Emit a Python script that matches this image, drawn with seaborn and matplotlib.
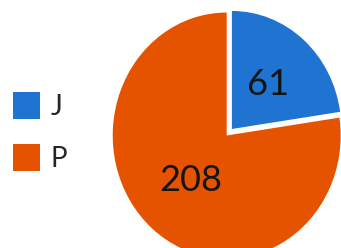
import matplotlib
matplotlib.use("Agg")
import matplotlib.pyplot as plt
import seaborn as sns

# data
labels = ["J", "P"]
counts = [61, 208]
colors = sns.color_palette(["#1f74d2", "#e65300"])

sns.set_theme(style="white")
plt.rcParams["font.family"] = ["Lato", "DejaVu Sans"]

fig = plt.figure(figsize=(3.41, 2.48), dpi=100)
ax = fig.add_axes([0, 0, 1, 1])

total = sum(counts)
wedges, texts, autotexts = ax.pie(
    counts,
    colors=colors,
    startangle=90,
    counterclock=False,
    explode=[0.07, 0],
    autopct=lambda p: f"{round(p * total / 100)}",
    pctdistance=0.48,
    wedgeprops=dict(linewidth=0),
    textprops=dict(fontsize=26, color="#141414"),
)
# exploded slice looks a touch smaller in the original
wedges[0].set_radius(0.96)

# the original is slightly stretched vertically
ax.set_aspect("auto")
ax.set_xlim(-1.989, 1.003)
ax.set_ylim(-0.915, 1.102)
ax.axis("off")

ax.legend(
    wedges, labels,
    loc="upper left",
    bbox_to_anchor=(12.7 / 341, 1 - 92 / 248),
    bbox_transform=fig.transFigure,
    frameon=False,
    fontsize=20,
    handlelength=0.97,
    handleheight=1.115,
    handletextpad=0.4,
    labelspacing=0.88,
    borderpad=0,
    borderaxespad=0,
    labelcolor="#262626",
)

fig.savefig("out.png", dpi=100)
